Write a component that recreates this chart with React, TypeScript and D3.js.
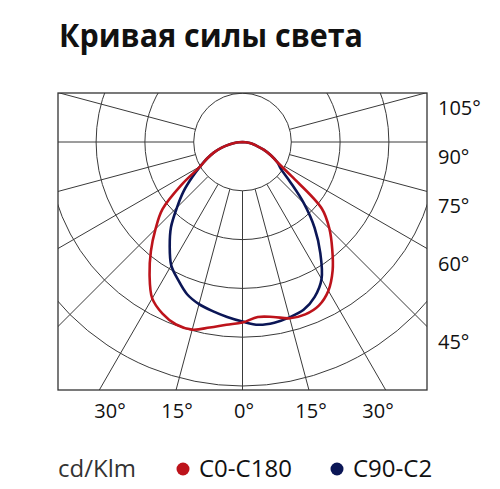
import React, { useEffect, useRef } from 'react';
import * as d3 from 'd3';

// gamma angles (0 = straight down), C0-C180 and C90-C270 planes, cd/klm
const angles = [
  -90, -85, -80, -75, -70, -65, -60, -55, -50, -45, -40, -35, -30, -25, -20, -15, -10, -5,
  0, 5, 10, 15, 20, 25, 30, 35, 40, 45, 50, 55, 60, 65, 70, 75, 80, 85, 90
];
const c0c180 = [
  0, 6, 13, 22, 31, 40, 50, 76, 107, 126, 146, 166, 185, 194, 199, 199, 193, 188,
  185, 180, 182, 187, 188, 185, 176, 161, 143, 126, 106, 62, 41, 32, 23, 15, 10, 5, 0
];
const c90c270 = [
  0, 6, 13, 22, 31, 40, 50, 63, 79, 95, 114, 130, 146, 156, 166, 172, 176, 180,
  184, 188, 188, 186, 183, 175, 162, 139, 115, 89, 64, 48, 41, 32, 23, 15, 10, 5, 0
];

const ringValues = [50, 100, 150, 200, 250];
const spokeAngles = [-105, -90, -75, -60, -45, -30, -15, 0, 15, 30, 45, 60, 75, 90, 105];
const sideLabels = [105, 90, 75, 60, 45];
const bottomLabels = ['30°', '15°', '0°', '15°', '30°'];

const series = [
  { name: 'C90-C2', values: c90c270, color: '#0b1656' },
  { name: 'C0-C180', values: c0c180, color: '#bd131b' }
];
const legendItems = [
  { name: 'C0-C180', color: '#bd131b' },
  { name: 'C90-C2', color: '#0b1656' }
];

const App = () => {
  const ref = useRef<SVGSVGElement>(null);

  useEffect(() => {
    const svg = d3.select(ref.current);
    svg.selectAll('*').remove();

    const font = '"Open Sans", "Noto Sans", sans-serif';
    const frame = { left: 58, top: 93, right: 427, bottom: 390 };
    const cx = (frame.left + frame.right) / 2;
    const cy = 142;
    const r = d3.scaleLinear().domain([0, 250]).range([0, 244]);
    const rad = (a: number) => (a * Math.PI) / 180;

    // title
    svg.append('text')
      .attr('x', 59)
      .attr('y', 47)
      .attr('font-family', font)
      .attr('font-size', 32)
      .attr('font-weight', 'bold')
      .attr('fill', '#111')
      .attr('textLength', 304)
      .attr('lengthAdjust', 'spacingAndGlyphs')
      .text('Кривая силы света');

    svg.append('defs')
      .append('clipPath')
      .attr('id', 'frame-clip')
      .append('rect')
      .attr('x', frame.left)
      .attr('y', frame.top)
      .attr('width', frame.right - frame.left)
      .attr('height', frame.bottom - frame.top);

    const grid = svg.append('g').attr('clip-path', 'url(#frame-clip)');

    grid.selectAll('circle')
      .data(ringValues)
      .enter()
      .append('circle')
      .attr('cx', cx)
      .attr('cy', cy)
      .attr('r', d => r(d))
      .attr('fill', 'none')
      .attr('stroke', '#3a3a3a')
      .attr('stroke-width', 1);

    // spokes start at the first ring
    grid.selectAll('line')
      .data(spokeAngles)
      .enter()
      .append('line')
      .attr('x1', d => cx + r(ringValues[0]) * Math.sin(rad(d)))
      .attr('y1', d => cy + r(ringValues[0]) * Math.cos(rad(d)))
      .attr('x2', d => cx + r(400) * Math.sin(rad(d)))
      .attr('y2', d => cy + r(400) * Math.cos(rad(d)))
      .attr('stroke', '#3a3a3a')
      .attr('stroke-width', 1);

    svg.append('rect')
      .attr('x', frame.left)
      .attr('y', frame.top)
      .attr('width', frame.right - frame.left)
      .attr('height', frame.bottom - frame.top)
      .attr('fill', 'none')
      .attr('stroke', '#333')
      .attr('stroke-width', 1.3);

    // curves: lineRadial angle 0 is up, so flip by pi to point gamma 0 down
    const line = d3.lineRadial<number>()
      .angle((d, i) => Math.PI - rad(angles[i]))
      .radius(d => r(d))
      .curve(d3.curveCatmullRom.alpha(0.5));

    svg.append('g')
      .attr('transform', `translate(${cx},${cy})`)
      .selectAll('path')
      .data(series)
      .enter()
      .append('path')
      .attr('d', d => line(d.values))
      .attr('fill', 'none')
      .attr('stroke', d => d.color)
      .attr('stroke-width', 2.6)
      .attr('stroke-linejoin', 'round');

    // side labels
    svg.selectAll('.side-label')
      .data(sideLabels)
      .enter()
      .append('text')
      .attr('class', 'side-label')
      .attr('x', 438)
      .attr('y', d => cy + (frame.right - cx) * Math.tan(rad(90 - d)) + 22)
      .attr('font-family', font)
      .attr('font-size', 20)
      .attr('fill', '#111')
      .text(d => `${d}°`);

    const bx = d3.scalePoint<number>()
      .domain(d3.range(bottomLabels.length))
      .range([110, 378]);

    svg.selectAll('.bottom-label')
      .data(bottomLabels)
      .enter()
      .append('text')
      .attr('class', 'bottom-label')
      .attr('x', (d, i) => bx(i)!)
      .attr('y', 418)
      .attr('text-anchor', 'middle')
      .attr('font-family', font)
      .attr('font-size', 20)
      .attr('fill', '#111')
      .text(d => d);

    // legend
    svg.append('text')
      .attr('x', 58)
      .attr('y', 477)
      .attr('font-family', font)
      .attr('font-size', 24)
      .attr('fill', '#333')
      .text('cd/Klm');

    const legendX = [183, 337];
    const legend = svg.selectAll('.legend')
      .data(legendItems)
      .enter()
      .append('g')
      .attr('class', 'legend')
      .attr('transform', (d, i) => `translate(${legendX[i]},469)`);

    legend.append('circle')
      .attr('r', 6.5)
      .attr('fill', d => d.color);

    legend.append('text')
      .attr('x', 16)
      .attr('y', 8)
      .attr('font-family', font)
      .attr('font-size', 24)
      .attr('fill', '#111')
      .text(d => d.name);
  }, []);

  return (
    <svg
      ref={ref}
      width={500}
      height={489}
      style={{ position: 'absolute', left: 0, top: 0, background: '#fff' }}
    />
  );
};

export default App;
